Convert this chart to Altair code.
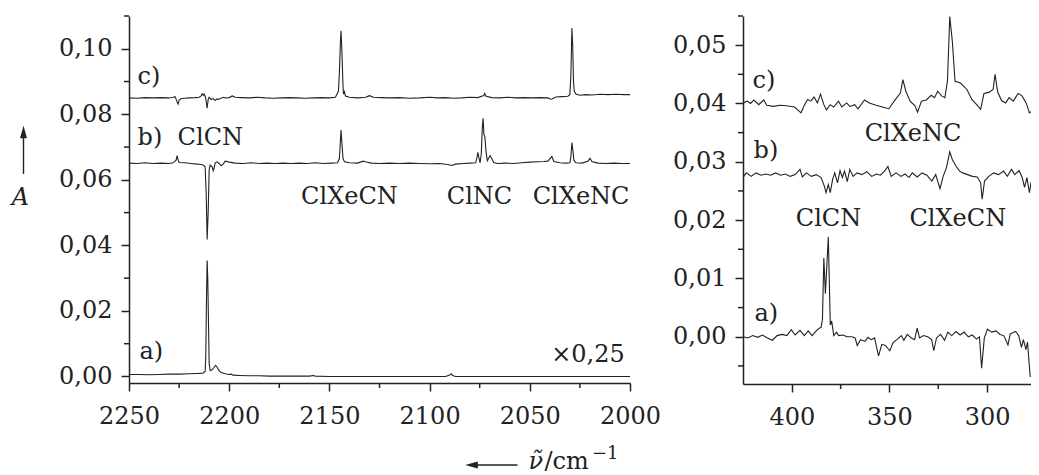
import altair as alt
import pandas as pd

# ---------------- left panel: 2250-2000 cm-1 ----------------
c_left_nu = [2250, 2246, 2242, 2238, 2234, 2230, 2228, 2227, 2226, 2225.5, 2225, 2224, 2222, 2220, 2217, 2215,
             2214, 2213.5, 2213, 2212.5, 2212, 2211.5, 2211, 2210.5, 2210, 2209, 2208, 2207, 2206, 2205, 2203,
             2202, 2200, 2198.5, 2197, 2194, 2190, 2186, 2182, 2178, 2174, 2170, 2166, 2162, 2158, 2154, 2150,
             2147, 2145.5, 2145, 2144.5, 2144.2, 2143.8, 2143.3, 2143, 2142.5, 2142, 2140, 2136, 2132, 2130,
             2128, 2124, 2120, 2115, 2110, 2105, 2100, 2096, 2092, 2088, 2084, 2080, 2076, 2073, 2072.5, 2072,
             2069, 2065, 2061, 2057, 2053, 2049, 2045, 2041, 2039.5, 2039, 2037, 2034, 2031, 2030, 2029.5, 2029,
             2028.6, 2028.2, 2027.8, 2027, 2025, 2022, 2019, 2015, 2011, 2007, 2003, 2000]
c_left_A = [0.0850, 0.0849, 0.0851, 0.0850, 0.0851, 0.0850, 0.0852, 0.0854, 0.0838, 0.0831, 0.0843, 0.0848,
            0.0849, 0.0850, 0.0851, 0.0852, 0.0856, 0.0863, 0.0858, 0.0862, 0.0855, 0.0840, 0.0819, 0.0845,
            0.0852, 0.0845, 0.0848, 0.0842, 0.0847, 0.0846, 0.0852, 0.0850, 0.0851, 0.0856, 0.0852, 0.0851,
            0.0850, 0.0852, 0.0850, 0.0849, 0.0850, 0.0851, 0.0850, 0.0849, 0.0850, 0.0851, 0.0850, 0.0852,
            0.0870, 0.0930, 0.1020, 0.1055, 0.1000, 0.0900, 0.0862, 0.0869, 0.0856, 0.0852, 0.0850, 0.0852,
            0.0857, 0.0852, 0.0851, 0.0850, 0.0851, 0.0849, 0.0850, 0.0852, 0.0850, 0.0851, 0.0849, 0.0850,
            0.0852, 0.0851, 0.0857, 0.0864, 0.0856, 0.0851, 0.0850, 0.0852, 0.0850, 0.0851, 0.0850, 0.0851,
            0.0850, 0.0846, 0.0847, 0.0853, 0.0854, 0.0855, 0.0860, 0.0920, 0.1063, 0.1010, 0.0900, 0.0870,
            0.0862, 0.0858, 0.0860, 0.0859, 0.0861, 0.0860, 0.0861, 0.0860, 0.0860]

b_left_nu = [2250, 2246, 2242, 2238, 2234, 2230, 2228, 2226.5, 2226, 2225.5, 2225, 2222, 2219, 2216, 2214, 2213,
             2212, 2211.5, 2211, 2210.5, 2210, 2209.5, 2208.5, 2208, 2207.5, 2207, 2206, 2205, 2204, 2203, 2202,
             2200, 2197, 2193, 2189, 2185, 2181, 2177, 2173, 2169, 2165, 2161, 2157, 2153, 2149, 2146, 2145,
             2144.5, 2144.2, 2143.8, 2143.2, 2142.5, 2140, 2136, 2133, 2132, 2129, 2125, 2120, 2115, 2110, 2105,
             2100, 2095, 2091, 2089, 2087, 2083, 2080, 2077, 2076.3, 2075.9, 2075.4, 2074.8, 2074.2, 2073.7,
             2073.3, 2072.9, 2072.4, 2071.9, 2071.2, 2070.6, 2069.8, 2069, 2068, 2066, 2062, 2058, 2054, 2050,
             2046, 2043, 2041, 2039.5, 2039, 2038, 2035, 2032, 2030, 2029.5, 2029, 2028.5, 2028, 2027, 2024,
             2021, 2020, 2019, 2016, 2012, 2008, 2004, 2000]
b_left_A = [0.0651, 0.0650, 0.0652, 0.0650, 0.0651, 0.0650, 0.0652, 0.0660, 0.0674, 0.0660, 0.0653, 0.0652,
            0.0650, 0.0648, 0.0647, 0.0645, 0.0640, 0.0560, 0.0418, 0.0500, 0.0630, 0.0645, 0.0640, 0.0628,
            0.0636, 0.0652, 0.0655, 0.0650, 0.0643, 0.0648, 0.0657, 0.0654, 0.0651, 0.0650, 0.0652, 0.0650,
            0.0651, 0.0650, 0.0651, 0.0650, 0.0651, 0.0650, 0.0652, 0.0650, 0.0651, 0.0652, 0.0665, 0.0720,
            0.0752, 0.0715, 0.0665, 0.0655, 0.0652, 0.0651, 0.0657, 0.0655, 0.0651, 0.0650, 0.0651, 0.0650,
            0.0651, 0.0650, 0.0649, 0.0650, 0.0647, 0.0644, 0.0648, 0.0650, 0.0651, 0.0652, 0.0670, 0.0684,
            0.0668, 0.0652, 0.0680, 0.0760, 0.0788, 0.0740, 0.0730, 0.0690, 0.0658, 0.0665, 0.0674, 0.0665,
            0.0653, 0.0650, 0.0651, 0.0650, 0.0652, 0.0654, 0.0655, 0.0656, 0.0657, 0.0668, 0.0671, 0.0656,
            0.0652, 0.0651, 0.0652, 0.0670, 0.0714, 0.0690, 0.0660, 0.0652, 0.0651, 0.0657, 0.0666, 0.0656,
            0.0651, 0.0650, 0.0651, 0.0650, 0.0650]

a_left_nu = [2250, 2245, 2240, 2235, 2230, 2225, 2220, 2216, 2213, 2212, 2211.7, 2211.3, 2211, 2210.7, 2210.3,
             2210, 2209.5, 2208.5, 2207.5, 2206.8, 2206, 2205, 2204, 2202, 2200, 2199, 2198, 2195, 2190, 2185,
             2180, 2175, 2170, 2165, 2160, 2158, 2157, 2150, 2140, 2130, 2120, 2110, 2100, 2092, 2090, 2089.3,
             2088.5, 2087, 2080, 2070, 2060, 2050, 2040, 2030, 2020, 2010, 2000]
a_left_A = [0.0006, 0.0006, 0.0005, 0.0006, 0.0007, 0.0007, 0.0008, 0.0009, 0.0010, 0.0015, 0.0060, 0.0250,
            0.0354, 0.0300, 0.0150, 0.0040, 0.0018, 0.0020, 0.0028, 0.0034, 0.0028, 0.0017, 0.0012, 0.0008,
            0.0006, 0.0007, 0.0004, 0.0003, 0.0002, 0.0002, 0.0001, 0.0001, 0.0001, 0.0001, 0.0001, 0.0003,
            0.0001, 0.0000, 0.0000, 0.0000, 0.0000, 0.0000, 0.0000, 0.0000, 0.0004, 0.0008, 0.0003, 0.0000,
            0.0000, 0.0000, 0.0000, 0.0000, 0.0000, 0.0000, 0.0000, 0.0000, 0.0000]

# ---------------- right panel: 425-278 cm-1 ----------------
c_right_nu = [425.0, 422.8, 421.1, 419.4, 416.9, 414.4, 412.8, 409.4, 406.1, 402.8, 398.6, 395.3, 393.6, 391.9,
              390.3, 388.6, 386.9, 385.3, 383.6, 382.3, 380.3, 378.6, 376.1, 374.4, 371.9, 370.3, 367.8, 366.1,
              362.8, 360.3, 356.9, 353.6, 350.3, 346.9, 344.4, 343.1, 341.6, 339.4, 336.9, 335.6, 333.6, 331.1,
              328.6, 326.9, 325.3, 323.3, 321.6, 320.3, 319.1, 317.8, 316.4, 313.6, 310.3, 307.8, 305.3, 303.3,
              301.6, 299.1, 296.9, 295.9, 294.6, 292.6, 290.5, 288.7, 286.6, 284.1, 282.1, 280.0, 278.3, 277.5]
c_right_A = [0.0401, 0.0404, 0.0400, 0.0406, 0.0398, 0.0406, 0.0397, 0.0395, 0.0397, 0.0396, 0.0394, 0.0384,
             0.0397, 0.0407, 0.0404, 0.0411, 0.0401, 0.0416, 0.0398, 0.0389, 0.0398, 0.0394, 0.0404, 0.0394,
             0.0401, 0.0395, 0.0398, 0.0391, 0.0406, 0.0401, 0.0397, 0.0394, 0.0391, 0.0407, 0.0418, 0.0441,
             0.0421, 0.0404, 0.0396, 0.0385, 0.0404, 0.0406, 0.0414, 0.0410, 0.0421, 0.0413, 0.0410, 0.0438,
             0.0549, 0.0507, 0.0438, 0.0435, 0.0424, 0.0407, 0.0398, 0.0390, 0.0417, 0.0419, 0.0424, 0.0450,
             0.0420, 0.0405, 0.0401, 0.0410, 0.0404, 0.0417, 0.0413, 0.0401, 0.0384, 0.0386]

b_right_nu = [425.0, 423.3, 420.8, 418.3, 415.8, 413.3, 410.8, 408.3, 405.8, 403.3, 400.8, 398.3, 395.8, 394.6,
              392.5, 390.0, 387.5, 385.0, 383.3, 382.5, 381.3, 380.3, 379.1, 378.0, 376.6, 375.3, 374.1, 373.0,
              371.6, 370.3, 368.6, 366.6, 364.1, 361.6, 359.1, 356.6, 354.6, 352.5, 350.8, 349.1, 346.6, 344.1,
              342.0, 340.0, 338.3, 335.8, 333.3, 330.8, 328.3, 326.3, 324.1, 322.5, 320.8, 319.1, 317.8, 315.8,
              314.1, 312.5, 310.0, 307.5, 305.0, 303.3, 302.5, 301.3, 299.1, 296.6, 294.1, 291.6, 289.6, 287.5,
              285.8, 283.6, 282.0, 280.8, 279.6, 278.3, 277.5]
b_right_A = [0.0273, 0.0281, 0.0275, 0.0281, 0.0277, 0.0279, 0.0277, 0.0281, 0.0277, 0.0279, 0.0275, 0.0278,
             0.0287, 0.0274, 0.0281, 0.0275, 0.0278, 0.0273, 0.0258, 0.0247, 0.0261, 0.0247, 0.0270, 0.0281,
             0.0264, 0.0285, 0.0273, 0.0284, 0.0266, 0.0287, 0.0275, 0.0281, 0.0278, 0.0283, 0.0275, 0.0279,
             0.0277, 0.0284, 0.0292, 0.0275, 0.0281, 0.0275, 0.0279, 0.0273, 0.0281, 0.0274, 0.0281, 0.0277,
             0.0267, 0.0278, 0.0254, 0.0275, 0.0290, 0.0317, 0.0304, 0.0292, 0.0284, 0.0281, 0.0278, 0.0275,
             0.0274, 0.0264, 0.0236, 0.0267, 0.0275, 0.0281, 0.0278, 0.0284, 0.0275, 0.0287, 0.0278, 0.0285,
             0.0273, 0.0256, 0.0273, 0.0247, 0.0265]

a_right_nu = [425.0, 422.5, 420.0, 417.5, 415.0, 412.5, 410.0, 407.5, 405.0, 402.5, 400.3, 398.3, 395.8, 393.6,
              391.6, 389.6, 387.5, 385.8, 385.0, 384.3, 383.6, 382.8, 381.3, 380.3, 379.6, 378.5, 377.1, 376.0,
              373.8, 371.8, 369.3, 367.6, 366.5, 364.8, 362.6, 361.0, 359.3, 357.6, 355.6, 353.9, 352.1, 349.8,
              348.1, 345.9, 343.9, 342.6, 340.9, 338.8, 337.1, 335.8, 334.6, 332.6, 330.4, 328.4, 327.3, 325.9,
              323.8, 321.8, 320.1, 318.1, 315.9, 313.8, 311.8, 309.6, 307.6, 305.4, 303.9, 302.8, 301.4, 299.8,
              297.6, 295.4, 293.4, 291.4, 289.3, 288.1, 285.4, 283.8, 282.4, 281.4, 280.1, 279.3, 277.9]
a_right_A = [0.0000, -0.0002, 0.0002, -0.0001, 0.0003, -0.0002, -0.0006, 0.0002, 0.0004, 0.0002, 0.0012,
             0.0003, 0.0011, 0.0002, 0.0010, 0.0002, 0.0010, 0.0015, 0.0016, 0.0030, 0.0135, 0.0074, 0.0171,
             0.0020, 0.0027, 0.0002, 0.0008, 0.0002, 0.0003, 0.0000, 0.0000, -0.0002, -0.0015, -0.0005,
             -0.0008, -0.0001, -0.0005, -0.0002, -0.0033, -0.0013, -0.0015, -0.0024, -0.0010, -0.0004, 0.0002,
             -0.0006, 0.0004, -0.0002, -0.0005, 0.0015, -0.0002, 0.0002, 0.0000, -0.0005, -0.0024, -0.0002,
             0.0004, -0.0006, 0.0008, 0.0002, 0.0009, 0.0003, 0.0008, 0.0000, 0.0003, -0.0004, 0.0000, -0.0054,
             -0.0002, 0.0013, 0.0008, 0.0010, 0.0004, 0.0002, -0.0014, 0.0005, 0.0009, 0.0002, -0.0018,
             -0.0005, -0.0022, -0.0009, -0.0069]

# ---------------- annotations ----------------
left_ann_text = ["c)", "b)", "ClCN", "a)", "ClXeCN", "ClNC", "ClXeNC", "×0,25"]
left_ann_nu = [2245.75, 2245.75, 2225.75, 2244.75, 2140.0, 2075.1, 2024.4, 2002.6]
left_ann_A = [0.0915, 0.0727, 0.0727, 0.0074, 0.0547, 0.0547, 0.0547, 0.0064]
left_ann_align = ["left", "left", "left", "left", "center", "center", "center", "right"]

right_ann_text = ["c)", "ClXeNC", "b)", "ClCN", "ClXeCN", "a)"]
right_ann_nu = [420.1, 337.9, 419.6, 381.2, 315.0, 419.1]
right_ann_A = [0.0438, 0.0347, 0.0318, 0.0202, 0.0202, 0.0039]
right_ann_align = ["left", "center", "left", "center", "center", "left"]

# ---------------- ticks ----------------
left_x_major = [2250, 2200, 2150, 2100, 2050, 2000]
left_x_minor = [2225, 2175, 2125, 2075, 2025]
left_y_major = [0.0, 0.02, 0.04, 0.06, 0.08, 0.10]
left_y_minor = [0.01, 0.03, 0.05, 0.07, 0.09, 0.11]
right_x_major = [400, 350, 300]
right_x_minor = [375, 325]
right_y_major = [0.0, 0.01, 0.02, 0.03, 0.04, 0.05]
right_y_minor = [-0.005, 0.005, 0.015, 0.025, 0.035, 0.045, 0.055]

FONT = "DejaVu Serif"
INK = "#222222"
FS = 24


def traces(pairs):
    frames = []
    for name, nu, a in pairs:
        frames.append(pd.DataFrame({"nu": nu, "A": a, "trace": name}))
    return pd.concat(frames, ignore_index=True)


left_df = traces([("a", a_left_nu, a_left_A), ("b", b_left_nu, b_left_A), ("c", c_left_nu, c_left_A)])
right_df = traces([("a", a_right_nu, a_right_A), ("b", b_right_nu, b_right_A), ("c", c_right_nu, c_right_A)])
left_ann = pd.DataFrame({"text": left_ann_text, "nu": left_ann_nu, "A": left_ann_A, "align": left_ann_align})
right_ann = pd.DataFrame({"text": right_ann_text, "nu": right_ann_nu, "A": right_ann_A, "align": right_ann_align})

axis_common = dict(grid=False, title=None, domainColor=INK, domainWidth=1.5, tickColor=INK, tickWidth=1.5,
                   tickSize=8, labelColor=INK, labelFont=FONT, labelFontSize=FS, labelFlush=False,
                   labelOverlap=False)


def panel(df, ann, xdom, ydom, xmaj, xmin, ymaj, ymin, w, h):
    xs = alt.Scale(domain=xdom, nice=False, zero=False)
    ys = alt.Scale(domain=ydom, nice=False, zero=False)
    xa = alt.Axis(values=xmaj, format="d", labelPadding=13, **axis_common)
    ya = alt.Axis(values=ymaj, labelPadding=9, labelExpr="replace(format(datum.value, '.2f'), '.', ',')",
                  **axis_common)
    lines = alt.Chart(df).mark_line(color=INK, strokeWidth=1.1, clip=True).encode(
        x=alt.X("nu:Q", scale=xs, axis=xa),
        y=alt.Y("A:Q", scale=ys, axis=ya),
        detail="trace:N",
    )
    layers = [lines]
    # minor ticks
    layers.append(
        alt.Chart(pd.DataFrame({"nu": xmin})).mark_rule(color=INK, strokeWidth=1.5).encode(
            x=alt.X("nu:Q", scale=xs, axis=xa), y=alt.value(h), y2=alt.value(h + 5))
    )
    layers.append(
        alt.Chart(pd.DataFrame({"A": ymin})).mark_rule(color=INK, strokeWidth=1.5).encode(
            y=alt.Y("A:Q", scale=ys, axis=ya), x=alt.value(0), x2=alt.value(-5))
    )
    for al in ["left", "center", "right"]:
        layers.append(
            alt.Chart(ann).transform_filter(alt.datum.align == al).mark_text(
                font=FONT, fontSize=FS, color=INK, align=al, baseline="middle"
            ).encode(x=alt.X("nu:Q", scale=xs, axis=xa), y=alt.Y("A:Q", scale=ys, axis=ya), text="text:N")
        )
    return layers


one = pd.DataFrame({"k": [0]})
deco = [
    alt.Chart(one).mark_rule(color=INK, strokeWidth=1.4).encode(
        x=alt.value(-105.5), y=alt.value(120), y2=alt.value(158)),
    alt.Chart(one).mark_point(shape="M -0.55 1 L 0 -1 L 0.55 1 Z", filled=True, size=160, color=INK,
                              opacity=1).encode(x=alt.value(-105.5), y=alt.value(116)),
    alt.Chart(one).mark_text(font=FONT, fontSize=FS, fontStyle="italic", color=INK, align="center",
                             baseline="middle").encode(x=alt.value(-108.5), y=alt.value(182), text=alt.value("A")),
    alt.Chart(one).mark_rule(color=INK, strokeWidth=1.4).encode(
        x=alt.value(346), x2=alt.value(388.5), y=alt.value(449)),
    alt.Chart(one).mark_point(shape="M 1 -0.55 L -1 0 L 1 0.55 Z", filled=True, size=160, color=INK,
                              opacity=1).encode(x=alt.value(342.5), y=alt.value(449)),
    alt.Chart(one).mark_text(font=FONT, fontSize=FS, fontStyle="italic", color=INK, align="left",
                             baseline="alphabetic").encode(x=alt.value(399.5), y=alt.value(453), text=alt.value("ν̃")),
    alt.Chart(one).mark_text(font=FONT, fontSize=FS, color=INK, align="left",
                             baseline="alphabetic").encode(x=alt.value(415.5), y=alt.value(453), text=alt.value("/cm")),
    alt.Chart(one).mark_text(font=FONT, fontSize=18, color=INK, align="left",
                             baseline="alphabetic").encode(x=alt.value(463), y=alt.value(443), text=alt.value("−1")),
]

l_layers = panel(left_df, left_ann, [2250, 2000], [-0.002, 0.11], left_x_major, left_x_minor,
                 left_y_major, left_y_minor, 501, 367)
r_layers = panel(right_df, right_ann, [425, 277.5], [-0.0081, 0.055], right_x_major, right_x_minor,
                 right_y_major, right_y_minor, 288, 368)

left = alt.layer(*l_layers, *deco).properties(width=501, height=367)
right = alt.layer(*r_layers).properties(width=288, height=368)

chart = alt.hconcat(left, right, spacing=113, bounds="flush").properties(
    padding={"left": 3, "top": 7, "right": 0, "bottom": 0}
).configure_view(stroke=None)

chart.save("out.html", embed_options={"renderer": "svg", "actions": False})
